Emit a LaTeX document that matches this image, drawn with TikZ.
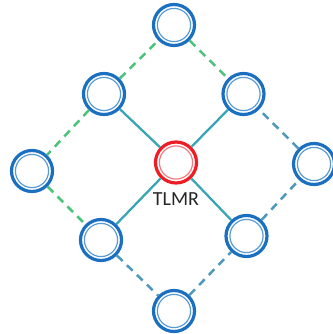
\documentclass[tikz,border=0pt]{standalone}
\usepackage{fontspec}
\setmainfont{Carlito}
\definecolor{ringblue}{HTML}{1A6FC0}
\definecolor{innerblue}{HTML}{5B9BD5}
\definecolor{ringred}{HTML}{EE1C24}
\definecolor{innerred}{HTML}{F47A80}
\definecolor{tealline}{HTML}{3AA5B5}
\definecolor{greendash}{HTML}{4CC27A}
\definecolor{bluedash}{HTML}{4C98BE}
\tikzset{
  ring/.style={circle, draw=ringblue, line width=3.2pt, fill=white, minimum size=41pt, inner sep=0pt,
    path picture={\draw[innerblue, line width=1.2pt] (path picture bounding box.center) circle (16.6pt);}},
  redring/.style={circle, draw=ringred, line width=3.2pt, fill=white, minimum size=41pt, inner sep=0pt,
    path picture={\draw[innerred, line width=1.2pt] (path picture bounding box.center) circle (16.6pt);}},
  solidlink/.style={tealline, line width=2.3pt},
  greenlink/.style={greendash, line width=2.5pt, dash pattern=on 8pt off 6pt},
  bluelink/.style={bluedash, line width=2.5pt, dash pattern=on 8pt off 6pt},
  lbl/.style={font=\fontsize{20pt}{24pt}\selectfont, text=black!85, inner sep=0pt}
}
\begin{document}
\begin{tikzpicture}[x=1pt,y=-1pt]
\useasboundingbox (0,0) rectangle (332,334);
\node[ring] (t) at (174,25) {};
\node[ring] (tl) at (104,94) {};
\node[ring] (tr) at (243.5,94) {};
\node[ring] (l) at (32,171) {};
\node[redring] (c) at (176,162.5) {};
\node[ring] (r) at (314,164) {};
\node[ring] (bl) at (101,240) {};
\node[ring] (br) at (246.5,236) {};
\node[ring] (b) at (174,311) {};
\node[lbl] (lab) at (176,199) {TLMR};
\draw[solidlink] (c) -- (tl);
\draw[solidlink] (c) -- (tr);
\draw[solidlink] (c) -- (bl);
\draw[solidlink] (c) -- (br);
\draw[greenlink] (tl) -- (t);
\draw[greenlink] (t) -- (tr);
\draw[greenlink] (tl) -- (l);
\draw[greenlink] (l) -- (bl);
\draw[bluelink] (bl) -- (b);
\draw[bluelink] (b) -- (br);
\draw[bluelink] (br) -- (r);
\draw[bluelink] (r) -- (tr);
\end{tikzpicture}
\end{document}
